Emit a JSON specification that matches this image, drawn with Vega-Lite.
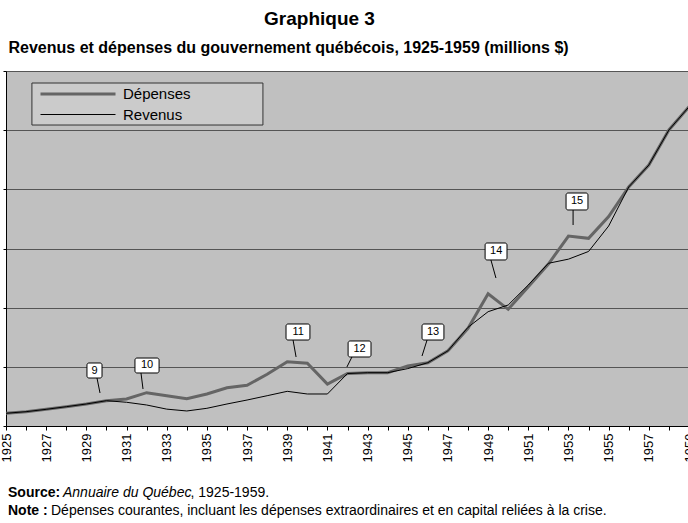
{
  "$schema": "https://vega.github.io/schema/vega-lite/v6.json",
  "width": 683,
  "height": 355,
  "autosize": {"type": "none"},
  "padding": {"left": 6, "top": 71, "right": 0, "bottom": 97},
  "background": "#ffffff",
  "view": {"fill": "#c0c0c0", "stroke": null},
  "config": {"font": "Liberation Sans"},
  "title": {"text": "Graphique 3", "font": "Liberation Sans", "fontSize": 19, "fontWeight": "bold", "color": "#000000", "anchor": "middle", "frame": "group", "dx": -28, "dy": -10, "offset": 0},
  "datasets": {
    "series": [
      {"year": 1925, "series": "Dépenses", "value": 21.5},
      {"year": 1926, "series": "Dépenses", "value": 24.2},
      {"year": 1927, "series": "Dépenses", "value": 28.2},
      {"year": 1928, "series": "Dépenses", "value": 32.6},
      {"year": 1929, "series": "Dépenses", "value": 37.2},
      {"year": 1930, "series": "Dépenses", "value": 42.8},
      {"year": 1931, "series": "Dépenses", "value": 45.6},
      {"year": 1932, "series": "Dépenses", "value": 56.3},
      {"year": 1933, "series": "Dépenses", "value": 51.2},
      {"year": 1934, "series": "Dépenses", "value": 46.1},
      {"year": 1935, "series": "Dépenses", "value": 54.1},
      {"year": 1936, "series": "Dépenses", "value": 64.7},
      {"year": 1937, "series": "Dépenses", "value": 68.8},
      {"year": 1938, "series": "Dépenses", "value": 87.4},
      {"year": 1939, "series": "Dépenses", "value": 108.7},
      {"year": 1940, "series": "Dépenses", "value": 106},
      {"year": 1941, "series": "Dépenses", "value": 70.8},
      {"year": 1942, "series": "Dépenses", "value": 88.7},
      {"year": 1943, "series": "Dépenses", "value": 90.1},
      {"year": 1944, "series": "Dépenses", "value": 90.1},
      {"year": 1945, "series": "Dépenses", "value": 101.5},
      {"year": 1946, "series": "Dépenses", "value": 107},
      {"year": 1947, "series": "Dépenses", "value": 127},
      {"year": 1948, "series": "Dépenses", "value": 165.1},
      {"year": 1949, "series": "Dépenses", "value": 223.5},
      {"year": 1950, "series": "Dépenses", "value": 197.2},
      {"year": 1951, "series": "Dépenses", "value": 235.4},
      {"year": 1952, "series": "Dépenses", "value": 273.8},
      {"year": 1953, "series": "Dépenses", "value": 321},
      {"year": 1954, "series": "Dépenses", "value": 317.2},
      {"year": 1955, "series": "Dépenses", "value": 354},
      {"year": 1956, "series": "Dépenses", "value": 404},
      {"year": 1957, "series": "Dépenses", "value": 441},
      {"year": 1958, "series": "Dépenses", "value": 500.3},
      {"year": 1959, "series": "Dépenses", "value": 539.6},
      {"year": 1925, "series": "Revenus", "value": 21.5},
      {"year": 1926, "series": "Revenus", "value": 24.2},
      {"year": 1927, "series": "Revenus", "value": 28.2},
      {"year": 1928, "series": "Revenus", "value": 32.6},
      {"year": 1929, "series": "Revenus", "value": 37.2},
      {"year": 1930, "series": "Revenus", "value": 42.8},
      {"year": 1931, "series": "Revenus", "value": 40.1},
      {"year": 1932, "series": "Revenus", "value": 35.5},
      {"year": 1933, "series": "Revenus", "value": 28.5},
      {"year": 1934, "series": "Revenus", "value": 25.4},
      {"year": 1935, "series": "Revenus", "value": 29.9},
      {"year": 1936, "series": "Revenus", "value": 37.2},
      {"year": 1937, "series": "Revenus", "value": 43.9},
      {"year": 1938, "series": "Revenus", "value": 51.2},
      {"year": 1939, "series": "Revenus", "value": 58.6},
      {"year": 1940, "series": "Revenus", "value": 54.1},
      {"year": 1941, "series": "Revenus", "value": 54.1},
      {"year": 1942, "series": "Revenus", "value": 88.7},
      {"year": 1943, "series": "Revenus", "value": 90.1},
      {"year": 1944, "series": "Revenus", "value": 90.1},
      {"year": 1945, "series": "Revenus", "value": 97},
      {"year": 1946, "series": "Revenus", "value": 107},
      {"year": 1947, "series": "Revenus", "value": 127},
      {"year": 1948, "series": "Revenus", "value": 166.8},
      {"year": 1949, "series": "Revenus", "value": 193.2},
      {"year": 1950, "series": "Revenus", "value": 204.5},
      {"year": 1951, "series": "Revenus", "value": 238.3},
      {"year": 1952, "series": "Revenus", "value": 275},
      {"year": 1953, "series": "Revenus", "value": 282},
      {"year": 1954, "series": "Revenus", "value": 295},
      {"year": 1955, "series": "Revenus", "value": 338},
      {"year": 1956, "series": "Revenus", "value": 404},
      {"year": 1957, "series": "Revenus", "value": 441},
      {"year": 1958, "series": "Revenus", "value": 500.3},
      {"year": 1959, "series": "Revenus", "value": 539.6}
    ],
    "callouts": [
      {"n": "9", "x1": 1929.03, "x2": 1929.78, "y1": 81.1, "y2": 106.5, "cx": 1929.41, "cy": 93.8, "bx": 1929.53, "tx": 1929.68, "ty": 55.8},
      {"n": "10", "x1": 1931.42, "x2": 1932.62, "y1": 89.6, "y2": 114.9, "cx": 1932.02, "cy": 102.3, "bx": 1931.72, "tx": 1931.82, "ty": 62.5},
      {"n": "11", "x1": 1938.94, "x2": 1940.13, "y1": 145.3, "y2": 172.4, "cx": 1939.54, "cy": 158.9, "bx": 1939.29, "tx": 1939.44, "ty": 116.6},
      {"n": "12", "x1": 1942.03, "x2": 1943.17, "y1": 116.6, "y2": 143.7, "cx": 1942.6, "cy": 130.2, "bx": 1942.22, "tx": 1941.97, "ty": 99.7},
      {"n": "13", "x1": 1945.71, "x2": 1946.8, "y1": 145.3, "y2": 172.4, "cx": 1946.26, "cy": 158.9, "bx": 1945.96, "tx": 1945.71, "ty": 118.3},
      {"n": "14", "x1": 1948.85, "x2": 1949.94, "y1": 280.6, "y2": 309.3, "cx": 1949.4, "cy": 295, "bx": 1949.14, "tx": 1949.39, "ty": 250.1},
      {"n": "15", "x1": 1952.88, "x2": 1953.97, "y1": 365.1, "y2": 393.8, "cx": 1953.43, "cy": 379.5, "bx": 1953.23, "tx": 1953.23, "ty": 339.7}
    ]
  },
  "layer": [
    {
      "data": {"values": [{}]},
      "mark": {"type": "rect", "fill": "#cbcbcb", "stroke": "#333333", "strokeWidth": 1},
      "encoding": {
        "x": {"datum": 1926.29, "type": "quantitative", "scale": {"domain": [1925, 1959], "nice": false, "zero": false}, "axis": null},
        "x2": {"datum": 1937.79},
        "y": {"datum": 579.7, "type": "quantitative", "scale": {"domain": [0, 600], "nice": false, "zero": false}, "title": null},
        "y2": {"datum": 508.7}
      }
    },
    {
      "data": {"name": "series"},
      "mark": {"type": "line"},
      "encoding": {
        "x": {
          "field": "year", "type": "quantitative",
          "scale": {"domain": [1925, 1959], "nice": false, "zero": false},
          "axis": {
            "title": null,
            "values": [1925,1926,1927,1928,1929,1930,1931,1932,1933,1934,1935,1936,1937,1938,1939,1940,1941,1942,1943,1944,1945,1946,1947,1948,1949,1950,1951,1952,1953,1954,1955,1956,1957,1958,1959],
            "format": "d",
            "labelExpr": "datum.value % 2 == 1 ? datum.label : ''",
            "labelAngle": -90, "labelFontSize": 13, "labelColor": "#000000",
            "labelPadding": 3, "labelFlush": false, "labelOverlap": false, "labelBound": false,
            "tickSize": 4, "tickColor": "#000000", "domainColor": "#000000", "grid": false
          }
        },
        "y": {
          "field": "value", "type": "quantitative",
          "scale": {"domain": [0, 600], "nice": false, "zero": false},
          "axis": {
            "title": null, "values": [0, 100, 200, 300, 400, 500, 600],
            "labels": false, "tickSize": 3, "tickColor": "#000000", "domainColor": "#000000",
            "grid": true, "gridColor": "#555555", "gridWidth": 1
          }
        },
        "color": {
          "field": "series", "type": "nominal",
          "scale": {"domain": ["Dépenses", "Revenus"], "range": ["#656565", "#000000"]},
          "legend": {
            "title": null, "orient": "none", "legendX": 30, "legendY": 14,
            "symbolType": "M-0.6,0H9.4", "symbolSize": 225, "labelFontSize": 15, "labelColor": "#000000",
            "labelOffset": 69, "padding": 0, "rowPadding": 4.5
          }
        },
        "strokeWidth": {
          "field": "series", "type": "nominal",
          "scale": {"domain": ["Dépenses", "Revenus"], "range": [3, 1]},
          "legend": {
            "title": null, "orient": "none", "legendX": 30, "legendY": 14,
            "symbolType": "M-0.6,0H9.4", "symbolSize": 225, "labelFontSize": 15, "labelColor": "#000000",
            "labelOffset": 69, "padding": 0, "rowPadding": 4.5
          }
        }
      }
    },
    {
      "data": {"name": "callouts"},
      "mark": {"type": "rule", "color": "#000000", "strokeWidth": 1},
      "encoding": {
        "x": {"field": "bx", "type": "quantitative", "scale": {"domain": [1925, 1959], "nice": false, "zero": false}, "axis": null},
        "y": {"field": "y1", "type": "quantitative", "scale": {"domain": [0, 600], "nice": false, "zero": false}, "title": null},
        "x2": {"field": "tx"},
        "y2": {"field": "ty"}
      }
    },
    {
      "data": {"name": "callouts"},
      "mark": {"type": "rect", "fill": "#ffffff", "stroke": "#000000", "strokeWidth": 1, "cornerRadius": 2},
      "encoding": {
        "x": {
          "field": "x1", "type": "quantitative",
          "scale": {"domain": [1925, 1959], "nice": false, "zero": false},
          "axis": {
            "orient": "top",
            "title": "Revenus et dépenses du gouvernement québécois, 1925-1959 (millions  $)",
            "titleFontSize": 16, "titleFontWeight": "bold", "titleColor": "#000000",
            "titleAnchor": "start", "titleAlign": "left", "titleBaseline": "alphabetic",
            "titleX": 2, "titleY": -19,
            "labels": false, "ticks": false, "domain": false, "grid": false
          }
        },
        "x2": {"field": "x2"},
        "y": {"field": "y1", "type": "quantitative", "scale": {"domain": [0, 600], "nice": false, "zero": false}, "title": null},
        "y2": {"field": "y2"}
      }
    },
    {
      "data": {"name": "callouts"},
      "mark": {"type": "text", "color": "#000000", "align": "center", "baseline": "middle"},
      "encoding": {
        "x": {"field": "cx", "type": "quantitative", "scale": {"domain": [1925, 1959], "nice": false, "zero": false}, "axis": null},
        "y": {"field": "cy", "type": "quantitative", "scale": {"domain": [0, 600], "nice": false, "zero": false}, "title": null},
        "text": {"field": "n"},
        "fontSize": {"condition": {"test": "datum.n == '9'", "value": 13}, "value": 10}
      }
    },
    {
      "data": {"values": [{}]},
      "mark": {"type": "text", "text": "Source:", "fontWeight": "bold", "fontSize": 14, "align": "left", "baseline": "alphabetic", "color": "#000000"},
      "encoding": {"x": {"value": 2}, "y": {"value": 426}}
    },
    {
      "data": {"values": [{}]},
      "mark": {"type": "text", "text": "Annuaire du Québec", "fontStyle": "italic", "fontSize": 14, "align": "left", "baseline": "alphabetic", "color": "#000000"},
      "encoding": {"x": {"value": 57}, "y": {"value": 426}}
    },
    {
      "data": {"values": [{}]},
      "mark": {"type": "text", "text": ", 1925-1959.", "fontSize": 14, "align": "left", "baseline": "alphabetic", "color": "#000000"},
      "encoding": {"x": {"value": 184.5}, "y": {"value": 426}}
    },
    {
      "data": {"values": [{}]},
      "mark": {"type": "text", "text": "Note :", "fontWeight": "bold", "fontSize": 14, "align": "left", "baseline": "alphabetic", "color": "#000000"},
      "encoding": {"x": {"value": 2}, "y": {"value": 444}}
    },
    {
      "data": {"values": [{}]},
      "mark": {"type": "text", "text": "Dépenses courantes, incluant les dépenses extraordinaires et en capital reliées à la crise.", "fontSize": 14, "align": "left", "baseline": "alphabetic", "color": "#000000"},
      "encoding": {"x": {"value": 45}, "y": {"value": 444}}
    }
  ],
  "resolve": {"axis": {"x": "independent"}}
}
